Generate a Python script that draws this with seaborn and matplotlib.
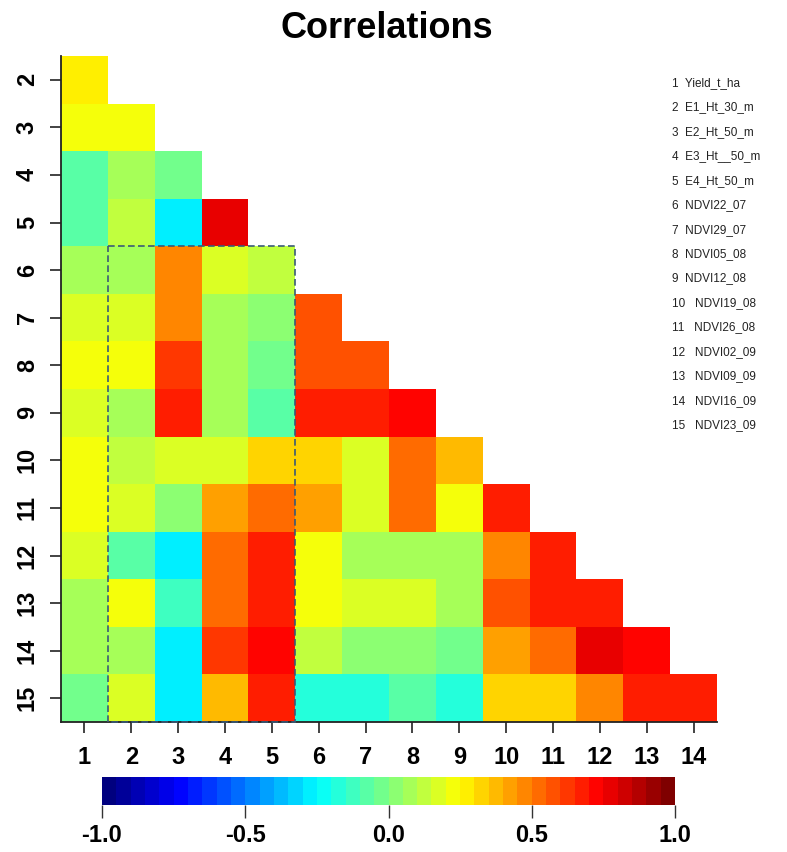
import numpy as np
import pandas as pd
import matplotlib
matplotlib.use("Agg")
import matplotlib.pyplot as plt
from matplotlib.colors import LinearSegmentedColormap
from matplotlib.patches import Rectangle
from matplotlib.ticker import FormatStrFormatter
import seaborn as sns

plt.rcParams['font.family'] = ['Liberation Sans', 'DejaVu Sans']
plt.rcParams['axes.unicode_minus'] = False

# ---- data ----
title = "Correlations"
row_labels = [2, 3, 4, 5, 6, 7, 8, 9, 10, 11, 12, 13, 14, 15]
col_labels = [1, 2, 3, 4, 5, 6, 7, 8, 9, 10, 11, 12, 13, 14]
variable_names = ["Yield_t_ha", "E1_Ht_30_m", "E2_Ht_50_m", "E3_Ht__50_m", "E4_Ht_50_m",
                  "NDVI22_07", "NDVI29_07", "NDVI05_08", "NDVI12_08", "NDVI19_08",
                  "NDVI26_08", "NDVI02_09", "NDVI09_09", "NDVI16_09", "NDVI23_09"]

r2 = [0.29]
r3 = [0.24, 0.24]
r4 = [-0.07, 0.095, -0.03]
r5 = [-0.06, 0.11, -0.28, 0.78]
r6 = [0.065, 0.08, 0.485, 0.18, 0.12]
r7 = [0.15, 0.18, 0.485, 0.065, 0.015, 0.575]
r8 = [0.24, 0.24, 0.625, 0.095, -0.04, 0.575, 0.575]
r9 = [0.16, 0.08, 0.69, 0.065, -0.07, 0.69, 0.69, 0.745]
r10 = [0.24, 0.11, 0.16, 0.18, 0.325, 0.31, 0.18, 0.545, 0.39]
r11 = [0.24, 0.16, 0.03, 0.42, 0.53, 0.405, 0.16, 0.515, 0.24, 0.69]
r12 = [0.19, -0.095, -0.27, 0.50, 0.69, 0.24, 0.075, 0.075, 0.095, 0.485, 0.69]
r13 = [0.065, 0.24, -0.125, 0.50, 0.69, 0.24, 0.18, 0.18, 0.075, 0.575, 0.65, 0.69]
r14 = [0.095, 0.075, -0.27, 0.60, 0.745, 0.125, 0.015, 0.015, -0.03, 0.435, 0.545, 0.78, 0.745]
r15 = [-0.05, 0.18, -0.27, 0.39, 0.65, -0.19, -0.155, -0.07, -0.19, 0.34, 0.34, 0.485, 0.65, 0.69]

highlight_cols = (2, 5)
highlight_rows = (6, 15)

cbar_ticks = [-1.0, -0.5, 0.0, 0.5, 1.0]

# ---- build matrix ----
rows = [r2, r3, r4, r5, r6, r7, r8, r9, r10, r11, r12, r13, r14, r15]
mat = np.full((len(row_labels), len(col_labels)), np.nan)
for i, vals in enumerate(rows):
    mat[i, :len(vals)] = vals
df = pd.DataFrame(mat, index=row_labels, columns=col_labels)
mask = df.isna()

jet_colors = ["#00007F", "#0000FF", "#007FFF", "#00FFFF", "#7FFF7F",
              "#FFFF00", "#FF7F00", "#FF0000", "#7F0000"]
cmap = LinearSegmentedColormap.from_list("jetR", jet_colors).resampled(40)

fig = plt.figure(figsize=(7.87, 8.52), dpi=100)
ax = fig.add_axes([61 / 787, 1 - 722 / 852, (717 - 61) / 787, (722 - 56) / 852])
cax = fig.add_axes([102 / 787, 1 - 805 / 852, (675 - 102) / 787, 28 / 852])

sns.heatmap(df, mask=mask, cmap=cmap, vmin=-1, vmax=1, ax=ax, cbar=True,
            cbar_ax=cax, cbar_kws=dict(orientation="horizontal", ticks=cbar_ticks),
            linewidths=0, square=False)

# axes styling
for side in ["left", "bottom"]:
    ax.spines[side].set_visible(True)
    ax.spines[side].set_color("#222222")
    ax.spines[side].set_linewidth(1.3)
for side in ["top", "right"]:
    ax.spines[side].set_visible(False)

ax.tick_params(axis="both", direction="out", length=8, width=1.2, color="#222222")
ax.tick_params(axis="x", pad=9)
ax.tick_params(axis="y", pad=8)
ax.set_xticklabels(col_labels, fontsize=17, fontweight="bold", rotation=0)
ax.set_yticklabels(row_labels, fontsize=17, fontweight="bold", rotation=90, va="center")
ax.set_xlabel("")
ax.set_ylabel("")

# dashed highlight box
c0 = col_labels.index(highlight_cols[0])
c1 = col_labels.index(highlight_cols[1]) + 1
rr0 = row_labels.index(highlight_rows[0])
rr1 = row_labels.index(highlight_rows[1]) + 1
ax.add_patch(Rectangle((c0, rr0), c1 - c0, rr1 - rr0, fill=False,
                       edgecolor="#3a5a78", linewidth=1.2, linestyle=(0, (4, 2)),
                       clip_on=False, zorder=5))

# colorbar styling
cb = ax.collections[0].colorbar
cb.outline.set_visible(False)
cax.xaxis.set_major_formatter(FormatStrFormatter("%.1f"))
cax.tick_params(axis="x", direction="out", length=9, width=1.0, color="#333333", pad=5)
for lbl in cax.get_xticklabels():
    lbl.set_fontsize(17)
    lbl.set_fontweight("bold")

# title
fig.text(387 / 787, 1 - 28 / 852, title, ha="center", va="center",
         fontsize=26, fontweight="bold")

# variable legend
y0 = 1 - 83 / 852
dy = 24.43 / 852
for i, name in enumerate(variable_names, start=1):
    sep = "  " if i < 10 else "   "
    fig.text(672 / 787, y0 - (i - 1) * dy, f"{i}{sep}{name}", ha="left", va="center",
             fontsize=8.5, color="#222222")

fig.savefig("out.png", dpi=100)
